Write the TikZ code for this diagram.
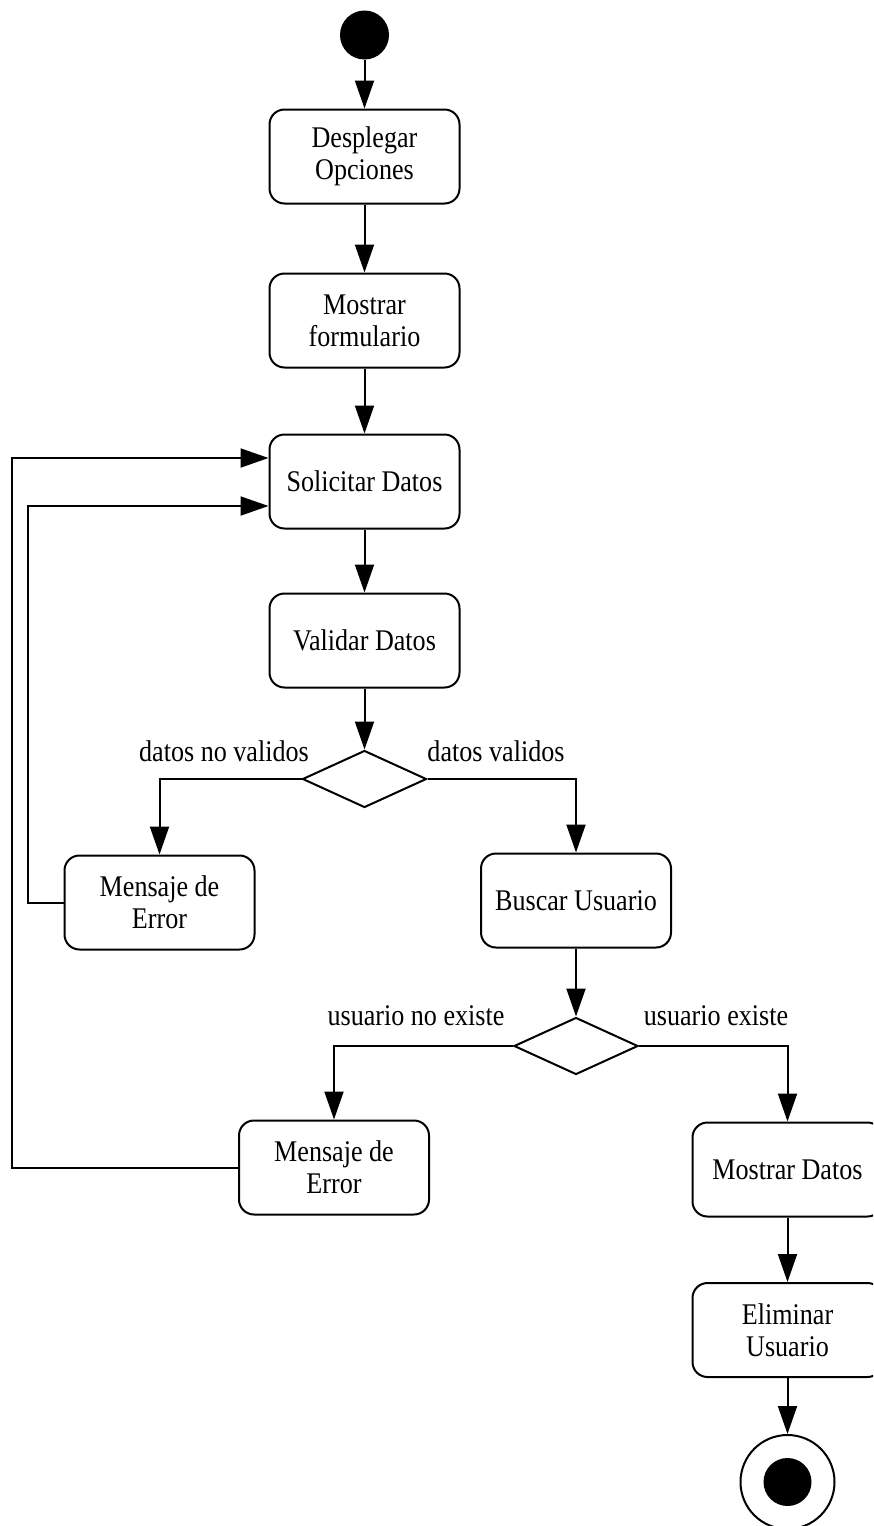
\documentclass[tikz,border=0pt]{standalone}
\usepackage{fontspec}
\setmainfont{Liberation Serif}[FakeStretch=0.87]
\usetikzlibrary{arrows.meta,shapes.geometric}
\tikzset{
  act/.style={draw, line width=2pt, rounded corners=15pt, minimum width=190pt,
    minimum height=94pt, align=center, inner sep=0pt,
    font=\fontsize{30}{32}\selectfont},
  dec/.style={draw, line width=2pt, shape=diamond, aspect=2.175,
    minimum width=124pt, minimum height=57pt, inner sep=0pt},
  lbl/.style={anchor=base, font=\fontsize{30}{32}\selectfont, inner sep=0pt},
  flow/.style={line width=2pt, -{Triangle[length=28pt,width=19pt]}},
  plain/.style={line width=2pt}
}
\begin{document}
\begin{tikzpicture}[x=1pt,y=-1pt]
\useasboundingbox (0,0) rectangle (873,1526);
\clip (0,0) rectangle (873,1526);
\fill[white] (0,0) rectangle (873,1526);
% nodes
\node[circle, fill=black, minimum size=49pt, inner sep=0pt] (start) at (364.5,35) {};
\node[act] (b1) at (364.5,156.5) {Desplegar\\Opciones};
\node[act] (b2) at (364.5,320.5) {Mostrar\\formulario};
\node[act] (b3) at (364.5,481.5) {Solicitar Datos};
\node[act] (b4) at (364.5,640.5) {Validar Datos};
\node[dec] (d1) at (364.5,779) {};
\node[act] (err1) at (159.5,902.5) {Mensaje de\\Error};
\node[act] (bus) at (576,900.5) {Buscar Usuario};
\node[dec] (d2) at (576,1046) {};
\node[act] (err2) at (334,1167.5) {Mensaje de\\Error};
\node[act] (md) at (787.5,1169.5) {Mostrar Datos};
\node[act] (el) at (787.5,1330) {Eliminar\\Usuario};
\node[circle, draw, line width=2pt, minimum size=94pt, inner sep=0pt] (fin) at (787.5,1482) {};
\node[circle, fill=black, minimum size=48pt, inner sep=0pt] (finc) at (fin.center) {};
% labels
\node[lbl] (l1) at (224,761) {datos no validos};
\node[lbl] (l2) at (496,761) {datos validos};
\node[lbl] (l3) at (416,1025) {usuario no existe};
\node[lbl] (l4) at (716,1025) {usuario existe};
% connectors
\draw[flow] (start) -- (b1);
\draw[flow] (b1) -- (b2);
\draw[flow] (b2) -- (b3);
\draw[flow] (b3) -- (b4);
\draw[flow] (b4) -- (d1);
\draw[flow] (d1.west) -| (err1.north);
\draw[flow] (d1.east) -| (bus.north);
\draw[flow] (bus) -- (d2);
\draw[flow] (d2.west) -| (err2.north);
\draw[flow] (d2.east) -| (md.north);
\draw[flow] (md) -- (el);
\draw[flow] (el) -- (fin);
\coordinate (c1) at (28,0);
\coordinate (c2) at (12,0);
\draw[flow] (err1.west) -- (err1.west -| c1) |- ([yshift=-24.5pt]b3.west);
\draw[flow] (err2.west) -- (err2.west -| c2) |- ([yshift=23.5pt]b3.west);
\end{tikzpicture}
\end{document}
